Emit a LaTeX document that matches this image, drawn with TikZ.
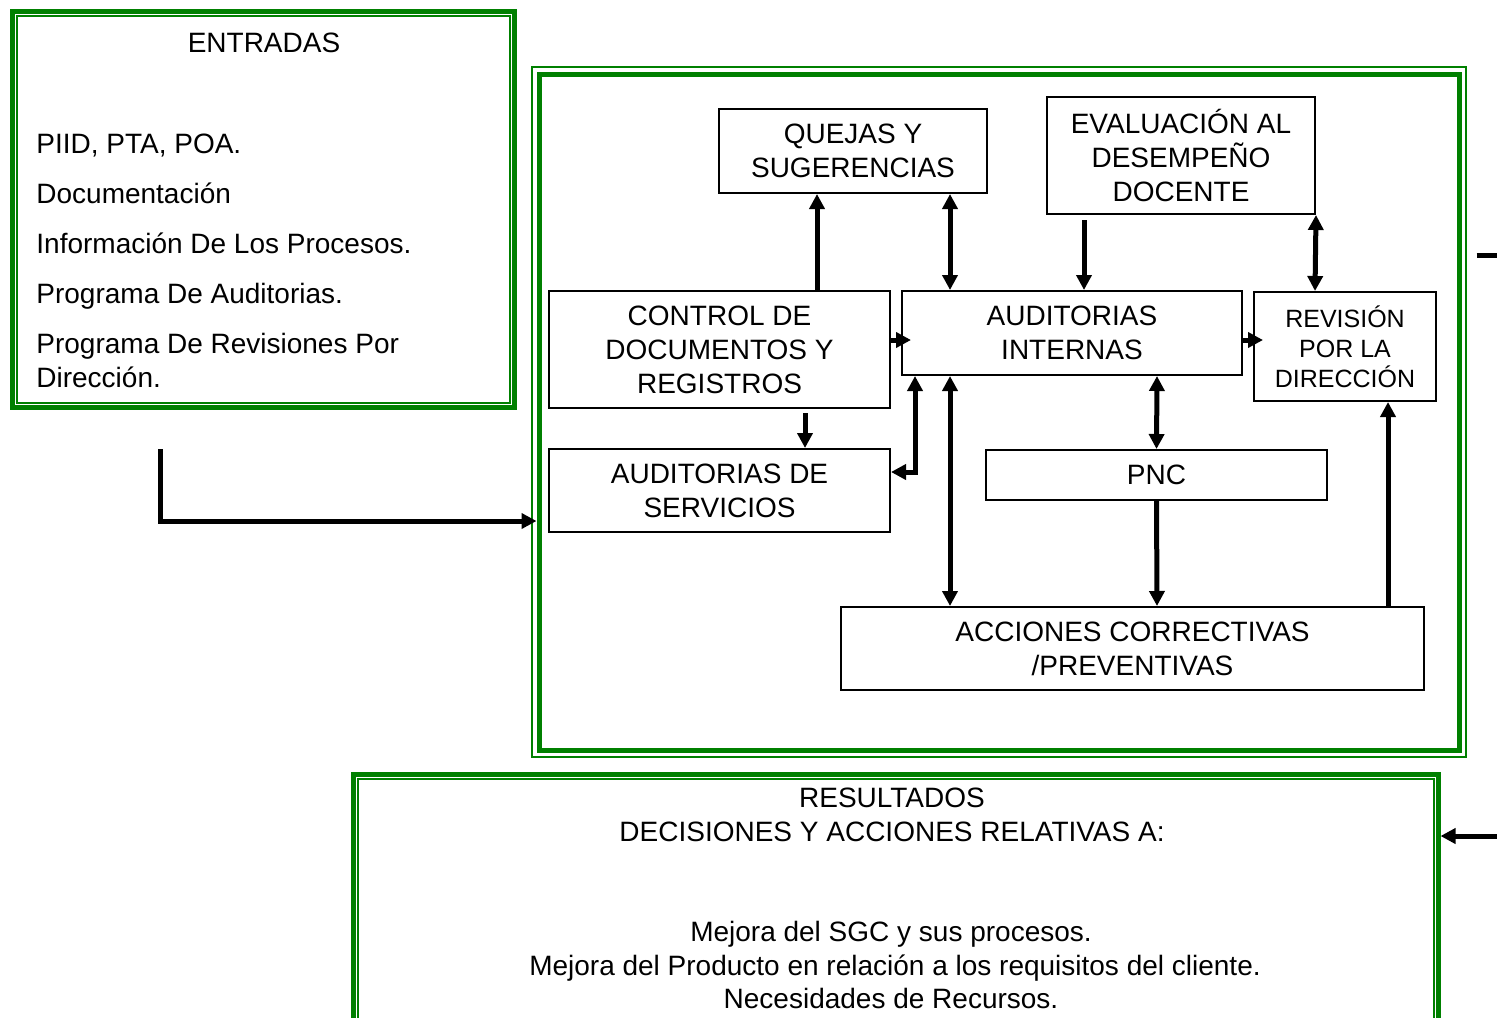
\documentclass[tikz,border=0pt]{standalone}
\usepackage{fontspec}
\setmainfont{Liberation Sans}
\usetikzlibrary{arrows.meta}
\definecolor{verde}{RGB}{0,128,0}

\begin{document}
\begin{tikzpicture}[
    x=0.5pt, y=-0.5pt,
    font=\fontsize{14}{17}\selectfont,
    caja/.style={draw, line width=1pt, align=center, inner sep=0pt},
    marco/.style={draw=verde, line width=2.5pt, inner sep=0pt},
    fino/.style={draw=verde, line width=1pt},
    texto/.style={inner sep=0pt},
    flecha/.style={line width=2.5pt, -{Triangle[length=7.5pt,width=7.5pt]}},
    doble/.style={flecha, {Triangle[length=7.5pt,width=7.5pt]}-{Triangle[length=7.5pt,width=7.5pt]}},
  ]
  \useasboundingbox (0,0) rectangle (1497,1017);
  \clip (0,0) rectangle (1497,1017);

  % marcos verdes
  \node[marco, minimum width=251pt, minimum height=198pt] (entradas) at (263.5,209) {};
  \draw[fino] ([shift={(3.5pt,-3.5pt)}]entradas.north west) rectangle ([shift={(-3.5pt,3.5pt)}]entradas.south east);
  \node[marco, minimum width=460pt, minimum height=338pt] (proceso) at (999,412) {};
  \draw[fino] ([shift={(-2.25pt,2.25pt)}]proceso.north west) rectangle ([shift={(2.25pt,-2.25pt)}]proceso.south east);
  \node[marco, minimum width=542.5pt, minimum height=133pt] (resultados) at (895.5,907) {};
  \draw[fino] ([shift={(3.5pt,-3.5pt)}]resultados.north west) rectangle ([shift={(-3.5pt,3.5pt)}]resultados.south east);

  % entradas
  \node[texto, anchor=base] (titent) at (264,52) {ENTRADAS};
  \node[texto, anchor=base west] (piid) at (36,153) {PIID, PTA, POA.};
  \node[texto, anchor=base west] (doc) at (36,203) {Documentación};
  \node[texto, anchor=base west] (info) at (36,253) {Información De Los Procesos.};
  \node[texto, anchor=base west] (progaud) at (36,303) {Programa De Auditorias.};
  \node[texto, anchor=base west] (progrev) at (36,353) {Programa De Revisiones Por};
  \node[texto, anchor=base west] (direc) at (36,387) {Dirección.};

  % cajas del proceso
  \node[caja, minimum width=134pt, minimum height=42pt] (quejas) at (853,151) {QUEJAS Y\\SUGERENCIAS};
  \node[caja, minimum width=134pt, minimum height=58.5pt] (eval) at (1181,155.5) {EVALUACIÓN AL\\DESEMPEÑO\\DOCENTE};
  \node[caja, minimum width=170.5pt, minimum height=58.5pt] (control) at (719.5,349.5) {CONTROL DE\\DOCUMENTOS Y\\REGISTROS};
  \node[caja, minimum width=170pt, minimum height=42pt] (audint) at (1072,333) {AUDITORIAS\\INTERNAS};
  \node[caja, minimum width=91pt, minimum height=54.5pt, font=\fontsize{12.5}{15}\selectfont] (revision) at (1345,346.5) {REVISIÓN\\POR LA\\DIRECCIÓN};
  \node[caja, minimum width=170.5pt, minimum height=41.5pt] (audserv) at (719.5,490.5) {AUDITORIAS DE\\SERVICIOS};
  \node[caja, minimum width=170.5pt, minimum height=25pt] (pnc) at (1156.5,475) {PNC};
  \node[caja, minimum width=291.5pt, minimum height=41.5pt] (acciones) at (1132.5,648.5) {ACCIONES CORRECTIVAS\\/PREVENTIVAS};

  % resultados
  \node[texto, anchor=base] (titres) at (892,807) {RESULTADOS};
  \node[texto, anchor=base] (decis) at (892,841) {DECISIONES Y ACCIONES RELATIVAS A:};
  \node[texto, anchor=base] (mejsgc) at (891,941) {Mejora del SGC y sus procesos.};
  \node[texto, anchor=base] (mejprod) at (895,975) {Mejora del Producto en relación a los requisitos del cliente.};
  \node[texto, anchor=base] (recursos) at (891,1008) {Necesidades de Recursos.};

  % flechas
  \draw[flecha] ([xshift=48.75pt]control.north) -- ([xshift=-18pt]quejas.south);
  \draw[doble] ([xshift=48.5pt]quejas.south) -- ([xshift=-61pt]audint.north);
  \draw[flecha, shorten <=2.5pt] ([xshift=-48.5pt]eval.south) -- ([xshift=6pt]audint.north);
  \draw[doble] (eval.south east) -- ([xshift=-15pt]revision.north);
  \draw[flecha, shorten >=-5pt] ([yshift=4.75pt]control.east) -- ([yshift=-3.5pt]audint.west);
  \draw[flecha, shorten >=-5pt] ([yshift=-3.5pt]audint.east) -- ([yshift=3.25pt]revision.west);
  \draw[flecha, shorten <=2pt] ([xshift=42.75pt]control.south) -- ([xshift=42.75pt]audserv.north);
  \draw[doble] ([xshift=-78.5pt]audint.south) |- ([yshift=9.25pt]audserv.east);
  \draw[doble] ([xshift=-61pt]audint.south) -- ([xshift=-91.25pt]acciones.north);
  \draw[doble] ([xshift=42.5pt]audint.south) -- (pnc.north);
  \draw[flecha] (pnc.south) -- ([xshift=12.25pt]acciones.north);
  \draw[flecha] ([xshift=127.75pt]acciones.north) -- ([xshift=21.5pt]revision.south);

  % entrada y salida
  \coordinate (inicio) at (160,449);
  \draw[flecha] (inicio) |- ([yshift=-54.5pt]proceso.west);
  \draw[flecha] ([xshift=7.5pt, yshift=78.5pt]proceso.east) -- ++(40pt,0) |- ([yshift=35.5pt]resultados.east);
\end{tikzpicture}
\end{document}
